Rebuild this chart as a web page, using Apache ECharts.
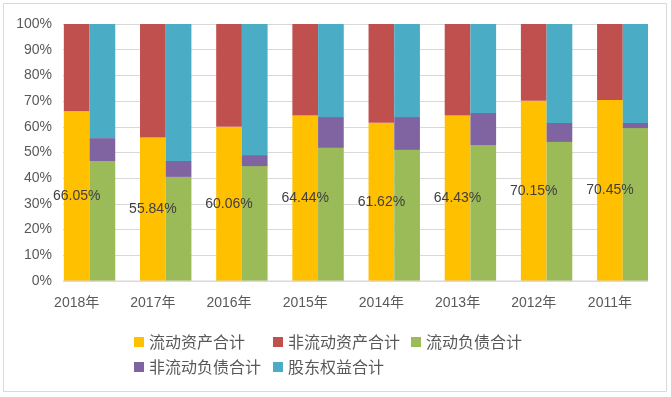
<!DOCTYPE html>
<html>
<head>
<meta charset="utf-8">
<script src="https://cdn.jsdelivr.net/npm/echarts@6/dist/echarts.min.js"></script>
<style>
html,body{margin:0;padding:0;background:#fff;}
#chart{width:671px;height:397px;}
</style>
</head>
<body>
<div id="chart"></div>
<script>
var categories = ['2018年','2017年','2016年','2015年','2014年','2013年','2012年','2011年'];
var currentAssets = [66.05, 55.84, 60.06, 64.44, 61.62, 64.43, 70.15, 70.45];
var nonCurrentAssets = [33.95, 44.16, 39.94, 35.56, 38.38, 35.57, 29.85, 29.55];
var currentLiab = [46.7, 40.5, 44.7, 51.8, 51.0, 52.9, 54.1, 59.5];
var nonCurrentLiab = [8.9, 6.2, 4.3, 12.0, 12.8, 12.5, 7.4, 2.0];
var equity = [44.4, 53.3, 51.0, 36.2, 36.2, 34.6, 38.5, 38.5];
var yTicks = [0, 100, 10];

var names = ['流动资产合计','非流动资产合计','流动负债合计','非流动负债合计','股东权益合计'];
var colors = ['#FFC000','#C0504D','#9BBB59','#8064A2','#4BACC6'];
var FONT = '"Liberation Sans", "Noto Sans CJK SC", sans-serif';
var BW = 25.7;

function bar(name, data, stack, color, extra) {
  var s = {
    name: name, type: 'bar', stack: stack, data: data,
    xAxisIndex: 1, yAxisIndex: 1,
    barWidth: BW, barGap: '0%', barCategoryGap: 0,
    itemStyle: {color: color}
  };
  if (extra) for (var k in extra) s[k] = extra[k];
  return s;
}

var legendPos = [[134,334],[273,334],[411,334],[134,359],[273,359]];
var legends = names.map(function(n, i){
  return {
    data: [n], left: legendPos[i][0], top: legendPos[i][1], padding: 0,
    itemWidth: 10, itemHeight: 10, icon: 'rect', itemGap: 5,
    textStyle: {fontSize: 16, color: '#595959', fontFamily: '"Noto Sans CJK SC", sans-serif'}
  };
});

var chart = echarts.init(document.getElementById('chart'), null, {renderer: 'canvas'});
chart.setOption({
  animation: false,
  backgroundColor: '#fff',
  graphic: [{
    type: 'rect', shape: {x: 3.5, y: 3.5, width: 663, height: 388},
    style: {fill: 'none', stroke: '#d9d9d9', lineWidth: 1}, silent: true, z: -10
  }],
  legend: legends,
  grid: [
    {left: 63, right: 23, top: 24, bottom: 116},
    {left: 38.6, right: 23, top: 24, bottom: 116}
  ],
  xAxis: [
    {type: 'value', gridIndex: 0, min: 0, max: 1, axisLabel: {show: false}, axisTick: {show: false},
     splitLine: {show: false}, axisLine: {show: false}},
    {type: 'category', gridIndex: 1, data: categories, boundaryGap: true,
     axisLine: {show: true, lineStyle: {color: 'rgba(0,0,0,0)'}}, axisTick: {show: false},
     axisLabel: {fontSize: 14, color: '#595959', fontFamily: FONT, margin: 15}}
  ],
  yAxis: [
    {type: 'value', gridIndex: 0, min: yTicks[0], max: yTicks[1], interval: yTicks[2],
     axisLabel: {formatter: '{value}%', fontSize: 14, color: '#595959', fontFamily: FONT, margin: 11},
     splitLine: {show: true, lineStyle: {color: '#d9d9d9', width: 1}},
     axisLine: {show: false}, axisTick: {show: false}},
    {type: 'value', gridIndex: 1, min: yTicks[0], max: yTicks[1], interval: yTicks[2],
     axisLabel: {show: false}, splitLine: {show: false}, axisLine: {show: false}, axisTick: {show: false}}
  ],
  series: [
    {type: 'line', xAxisIndex: 0, yAxisIndex: 0, data: [[0,0],[1,0]], symbol: 'none',
     lineStyle: {color: '#d9d9d9', width: 1}, silent: true, z: 5},
    bar('_pad', categories.map(function(){return '-';}), 'pad', 'rgba(0,0,0,0)'),
    bar(names[0], currentAssets, 'assets', colors[0], {
      label: {show: true, position: 'inside', formatter: '{c}%', fontSize: 14, color: '#404040',
              fontFamily: FONT, textBorderWidth: 0, overflow: 'none'}
    }),
    bar(names[1], nonCurrentAssets, 'assets', colors[1]),
    bar(names[2], currentLiab, 'liab', colors[2]),
    bar(names[3], nonCurrentLiab, 'liab', colors[3]),
    bar(names[4], equity, 'liab', colors[4])
  ]
});
</script>
</body>
</html>
